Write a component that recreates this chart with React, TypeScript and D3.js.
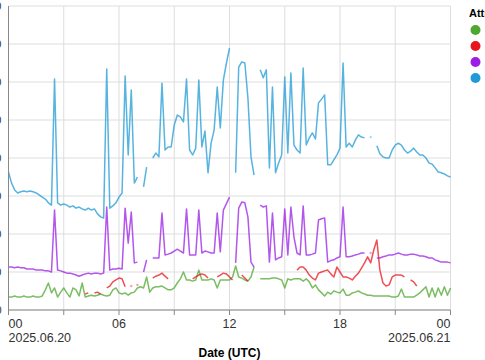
import React from 'react';
import * as d3 from 'd3';

// readings every 10 minutes from 2025-06-20 00:00 UTC
const startTime = Date.UTC(2025, 5, 20, 0, 0);
const slotMs = 10 * 60 * 1000;

const seriesNames = ['A', 'B', 'C', 'D'];
const seriesColors = ['#4ea72e', '#e8141c', '#9a1ee6', '#1f9ad6'];

const greenValues = [
  3.4, 3.4, 3.7, 3.4, 3.4, 3.7, 3.4, 3.4, 3.7, 3.4,
  3.4, 3.7, 5.3, 7.1, 4.5, 5.8, 3.4, 4.7, 5.8, 4.5,
  3.4, 5.8, 5.3, 3.7, 7.1, 3.4, 3.7, 3.9, 3.7, 3.9,
  4.2, 3.9, 3.7, 3.9, 5.3, 5.8, 4.5, 4.2, 4.5, 3.9,
  4.5, 4.7, 5.8, 6.1, 5.8, 8.7, 4.7, 5.8, 6.1, 6.1,
  6.3, 5.8, 5.3, 5.3, 5.8, 7.1, 8.2, 10.0, 7.9, 7.9,
  7.6, 7.9, 10.5, 7.9, 7.9, 7.9, 8.2, 7.9, 5.8, 7.9,
  7.9, 7.9, 7.9, 8.7, 11.6, 8.7, 8.4, 7.9, 7.6, 8.7,
  11.3, null, 8.2, 8.2, 8.2, 8.2, 8.4, 8.4, 8.2, 7.9,
  5.8, 8.2, 7.9, 8.2, 8.2, 8.2, 7.6, 8.2, 7.4, 5.8,
  6.6, 5.3, 4.5, 3.7, 4.7, 4.2, 5.0, 4.7, 4.5, 5.5,
  3.9, 3.9, 4.5, 4.7, 5.0, 4.5, 4.2, 3.9, 3.9, 3.7,
  3.7, 3.7, 3.7, 3.7, 3.7, 3.4, 3.4, 3.7, 5.5, 3.4,
  3.4, 3.4, 3.4, 3.9, 4.5, 5.3, 6.1, 3.4, 5.8, 3.4,
  5.8, 3.9, 6.1, 3.9, 5.8,
];

const redValues = [
  null, null, null, null, null, null, null, null, null, null,
  null, null, null, null, null, null, null, null, null, null,
  null, null, null, null, null, 4.2, 4.5, null, 4.5, 4.7,
  4.2, null, 5.8, 6.3, 7.4, 7.9, 8.4, 8.2, 6.1, null,
  6.3, null, 6.6, null, null, null, null, 8.4, 8.9, 9.2,
  9.7, 8.9, 8.2, null, null, null, null, null, null, null,
  8.2, 8.7, 9.2, 9.5, 9.2, 8.4, null, null, 8.7, 9.2,
  9.7, 9.5, 8.7, 7.9, null, null, 9.2, 8.4, 7.6, null,
  null, null, null, null, null, null, null, null, null, null,
  null, null, null, null, 10.5, 11.3, 11.3, 10.5, 9.2, 8.4,
  7.9, 9.7, 10.0, 10.3, 10.5, 9.5, 8.7, 11.3, 10.0, 8.7,
  8.7, 8.4, 7.9, 8.9, 9.7, 11.0, 12.4, 14.0, 12.4, 15.8,
  18.4, 10.5, 7.1, 6.3, 6.6, 8.7, 9.2, 9.2, 9.2, 8.7,
  null, 7.9, 7.4, 6.3, null, null, null, null, null, null,
  null, null, null, null, null,
];

const purpleValues = [
  11.3, 11.3, 11.1, 11.3, 11.1, 11.1, 10.8, 10.8, 10.8, 10.5,
  10.5, 10.5, 10.3, 10.3, 10.0, 26.3, 10.5, 10.3, 10.0, 9.7,
  9.7, 9.5, 9.2, 8.9, 9.2, 9.5, 9.7, 9.5, 9.7, 9.7,
  9.5, 9.7, 27.1, 10.5, 10.8, 10.8, 11.0, 10.8, 26.8, 17.6,
  25.8, 12.4, 12.6, null, 10.0, 13.2, null, 13.7, 13.7, 13.7,
  25.5, 14.5, 14.7, 15.0, 15.5, 16.0, 15.5, 15.0, 26.6, 14.5,
  14.5, 14.5, 26.3, 15.0, 15.5, 15.3, 15.0, 15.0, 25.5, 15.3,
  26.3, 28.0, 29.7, null, 12.4, 26.8, 28.4, 28.2, 24.5, 12.6,
  11.3, null, 27.6, 27.1, 27.4, 12.6, 25.5, 13.2, 13.7, 14.0,
  26.6, 14.5, 27.1, 19.2, 15.0, 14.5, 27.4, 14.5, 14.5, 14.7,
  15.0, 23.7, 24.0, 24.2, 12.6, 13.0, 13.2, 13.7, 14.0, 27.1,
  14.0, 14.0, 14.2, 14.5, 14.7, 15.0, 15.0, null, 15.0, null,
  13.7, 13.7, 14.0, 14.2, 14.5, 14.5, 14.7, 15.0, 14.7, 14.5,
  14.5, 14.7, 14.7, 14.5, 14.2, 14.2, 14.0, 13.7, 13.7, 13.2,
  12.9, 12.6, 12.6, 12.6, 12.4,
];

const blueValues = [
  36.3, 33.4, 31.6, 30.8, 31.1, 31.3, 31.1, 31.3, 31.1, 30.8,
  30.3, 29.7, 29.2, 28.2, 27.6, 60.8, 28.2, 27.6, 27.9, 27.6,
  27.1, 27.4, 26.8, 27.1, 26.6, 26.3, 26.8, 26.3, 26.6, 25.3,
  24.5, 24.2, 63.4, 26.8, 27.4, 28.2, 29.7, 30.8, 61.6, 40.8,
  57.9, 33.4, 35.0, null, 32.4, 37.6, null, 40.0, 41.3, 40.3,
  59.7, 42.1, 42.9, 42.9, 48.7, 51.3, 50.8, 49.5, 60.8, 42.1,
  40.8, 42.6, 60.5, 42.9, 47.1, 36.1, 43.9, 47.4, 58.7, 47.9,
  60.5, 65.0, 68.9, null, 36.1, 63.9, 65.3, 65.0, 55.8, 40.3,
  35.5, null, 63.2, 61.1, 63.2, 37.4, 58.7, 36.1, 38.7, 40.8,
  61.3, 41.3, 62.4, 43.4, 42.1, 41.3, 63.7, 43.4, 45.3, 46.6,
  45.0, 54.5, 55.5, 56.6, 38.2, 38.2, 39.5, 40.8, 42.6, 65.0,
  42.9, 43.9, 42.9, 44.7, 46.1, 45.5, 45.3, null, 45.5, null,
  43.2, 41.1, 40.3, 40.0, 40.0, 42.1, 43.4, 43.9, 43.4, 42.1,
  41.3, 41.8, 42.6, 41.6, 40.8, 40.8, 40.0, 38.7, 38.4, 37.4,
  36.3, 36.1, 35.8, 35.3, 35.0,
];

const seriesValues = [greenValues, redValues, purpleValues, blueValues];

const yTicks = [0, 10, 20, 30, 40, 50, 60, 70, 80];
const xLabelHours = [0, 6, 12, 18, 24];

const width = 485;
const height = 360;
const margin = { top: 6, right: 34.5, bottom: 50, left: 8.5 };
const font = 'Liberation Sans, Arial, sans-serif';

type Pt = { t: Date; v: number | null };

const App = () => {
  const x = d3
    .scaleUtc()
    .domain([new Date(startTime), new Date(startTime + 24 * 3600 * 1000)])
    .range([margin.left, width - margin.right]);
  const y = d3
    .scaleLinear()
    .domain([0, 80])
    .range([height - margin.bottom, margin.top]);

  const gridTimes = d3.utcHour.every(3)!.range(x.domain()[0], new Date(startTime + 24 * 3600 * 1000 + 1));

  const line = d3
    .line<Pt>()
    .defined(d => d.v != null)
    .x(d => x(d.t))
    .y(d => y(d.v as number));

  const series = seriesValues.map(vals =>
    vals.map((v, i) => ({ t: new Date(startTime + i * slotMs), v }))
  );

  const fmtDay = d3.utcFormat('%Y.%m.%d');
  const fmtHour = d3.utcFormat('%H');
  const y0 = y(0);

  return (
    <svg
      width={width}
      height={height}
      style={{ position: 'absolute', left: 0, top: 0, background: '#fff' }}
      fontFamily={font}
    >
      {/* grid */}
      {yTicks.map(t => (
        <line key={'gy' + t} x1={margin.left} x2={width - margin.right} y1={y(t)} y2={y(t)} stroke="#ddd" />
      ))}
      {gridTimes.map(t => (
        <line key={'gx' + t.getTime()} x1={x(t)} x2={x(t)} y1={margin.top} y2={y0} stroke="#ddd" />
      ))}

      {/* y labels: the frame cuts them, as in the original */}
      {yTicks.map(t => (
        <text key={'ly' + t} x={1.5} y={y(t)} dy="0.35em" textAnchor="end" fontSize={11} fill="#333">
          {t}
        </text>
      ))}

      {/* lines */}
      {series.map((pts, si) => (
        <g key={'s' + si}>
          <path
            d={line(pts) || ''}
            fill="none"
            stroke={seriesColors[si]}
            strokeOpacity={0.75}
            strokeWidth={1.5}
            strokeLinejoin="round"
          />
          {pts.map((p, i) =>
            p.v != null && pts[i - 1]?.v == null && pts[i + 1]?.v == null ? (
              <circle key={i} cx={x(p.t)} cy={y(p.v)} r={1.2} fill={seriesColors[si]} fillOpacity={0.4} />
            ) : null
          )}
        </g>
      ))}

      {/* axes */}
      <line x1={margin.left} x2={margin.left} y1={margin.top} y2={y0} stroke="#888" />
      <line x1={margin.left} x2={width - margin.right} y1={y0} y2={y0} stroke="#888" />
      {gridTimes.map(t => (
        <line key={'tx' + t.getTime()} x1={x(t)} x2={x(t)} y1={y0} y2={y0 + 5} stroke="#888" />
      ))}
      {xLabelHours.map((h, i) => {
        const t = new Date(startTime + h * 3600 * 1000);
        const anchor = i === 0 ? 'start' : i === xLabelHours.length - 1 ? 'end' : 'middle';
        return (
          <g key={'lx' + h}>
            <text x={x(t)} y={y0 + 18} textAnchor={anchor} fontSize={12.5} fill="#333">
              {fmtHour(t)}
            </text>
            {(i === 0 || i === xLabelHours.length - 1) && (
              <text x={x(t)} y={y0 + 32} textAnchor={anchor} fontSize={12.5} fill="#333">
                {fmtDay(t)}
              </text>
            )}
          </g>
        );
      })}
      <text
        x={(margin.left + width - margin.right) / 2}
        y={height - 3}
        textAnchor="middle"
        fontSize={12}
        fontWeight="bold"
        fill="#000"
      >
        Date (UTC)
      </text>

      {/* legend (cut by the right edge) */}
      <text x={469} y={17} fontSize={11} fontWeight="bold" fill="#000">
        Attribute
      </text>
      {seriesNames.map((n, i) => (
        <circle key={'lg' + n} cx={475.5} cy={30 + i * 16} r={5} fill={seriesColors[i]} />
      ))}
    </svg>
  );
};

export default App;
